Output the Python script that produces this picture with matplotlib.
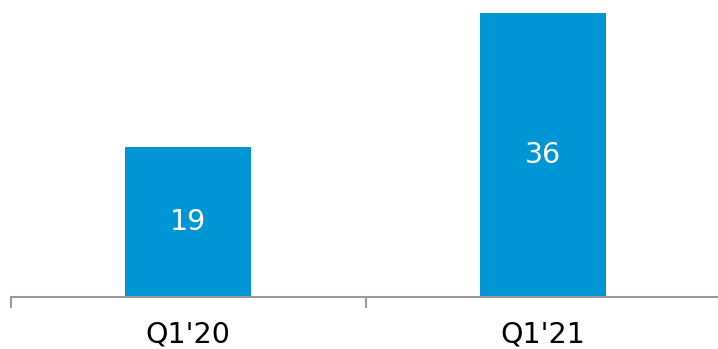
import matplotlib.pyplot as plt
from matplotlib.ticker import FixedLocator

# Data
categories = ["Q1'20", "Q1'21"]
values = [19, 36]

fig = plt.figure(figsize=(7.18, 3.49), dpi=100)
ax = fig.add_axes([10.5 / 718, 52 / 349, 710 / 718, 297 / 349])

x = list(range(len(categories)))
bars = ax.bar(x, values, width=0.355, color="#0096D6")

for rect, v in zip(bars, values):
    ax.text(rect.get_x() + rect.get_width() / 2, v / 2, str(v),
            ha="center", va="center", color="white", fontsize=20.5)

ax.set_xlim(-0.5, 1.5)
ax.set_ylim(0, 37.65)

ax.set_xticks(x)
ax.set_xticklabels(categories, fontsize=20.5)
ax.tick_params(axis="x", which="major", length=0, pad=17)
ax.xaxis.set_minor_locator(FixedLocator([-0.5, 0.5, 1.5]))
ax.tick_params(axis="x", which="minor", length=8, width=1.5, color="#999999")

ax.set_yticks([])
for side in ["top", "right", "left"]:
    ax.spines[side].set_visible(False)
ax.spines["bottom"].set_color("#999999")
ax.spines["bottom"].set_linewidth(1.5)

fig.savefig("out.png", dpi=100)
